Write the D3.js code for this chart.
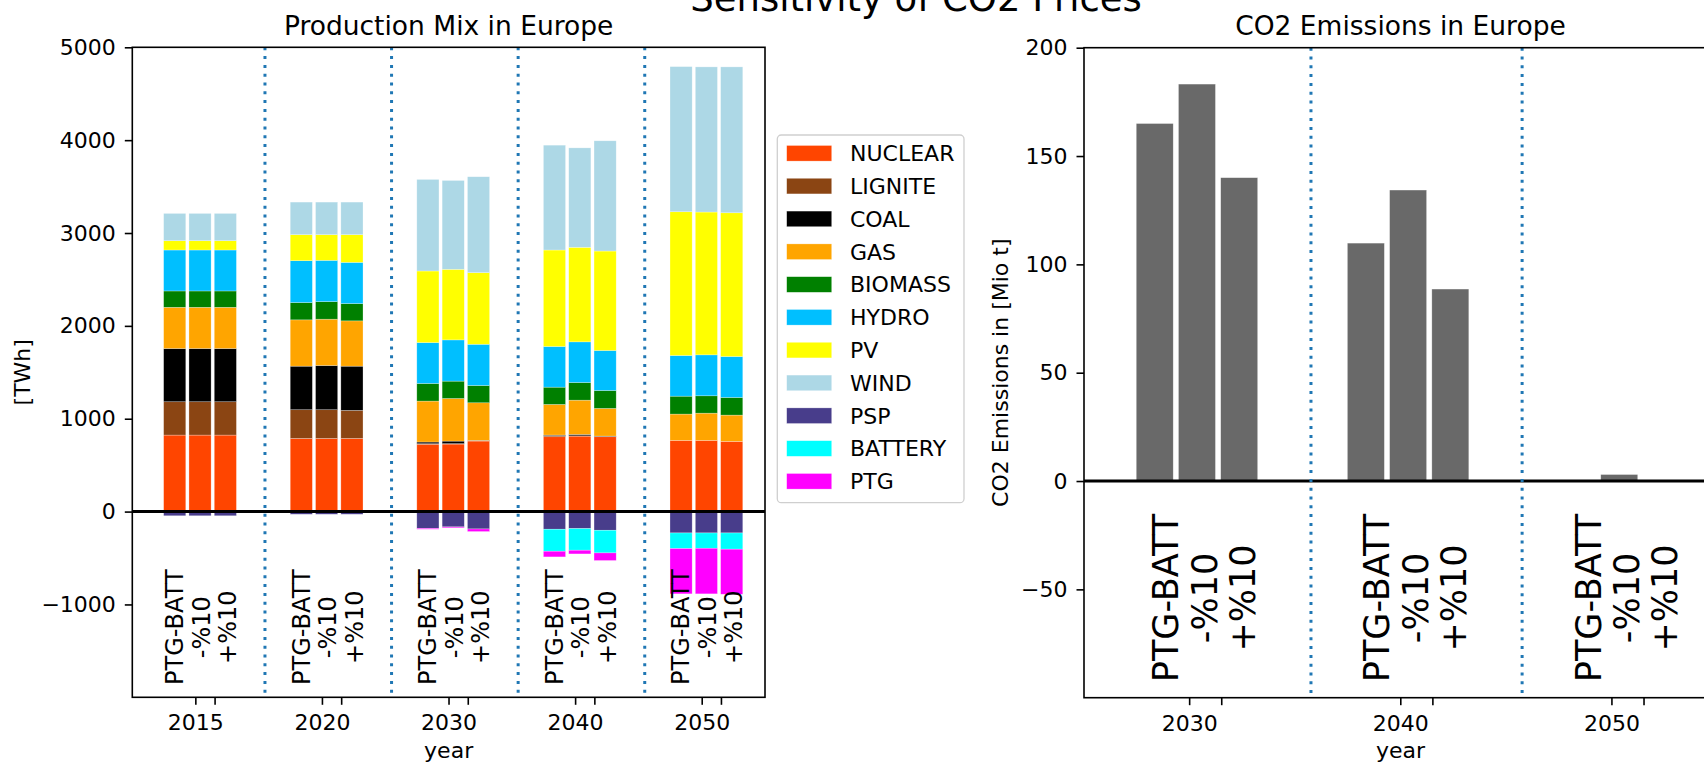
<!DOCTYPE html>
<html>
<head>
<meta charset="utf-8">
<script src="https://cdn.jsdelivr.net/npm/d3@7"></script>
<style>
  body { margin: 0; background: #fff; }
  svg { display: block; font-family: "DejaVu Sans", sans-serif; }
</style>
</head>
<body>
<svg id="fig" width="1704" height="766"></svg>
<script>
// ---- data ---------------------------------------------------------------
const years = ["2015", "2020", "2030", "2040", "2050"];
const scenarios = ["PTG-BATT", "-%10", "+%10"];
const techs = ["NUCLEAR", "LIGNITE", "COAL", "GAS", "BIOMASS", "HYDRO", "PV", "WIND", "PSP", "BATTERY", "PTG"];
const techColors = ["#ff4500", "#8b4513", "#000000", "#ffa500", "#008000", "#00bfff",
                    "#ffff00", "#add8e6", "#483d8b", "#00ffff", "#ff00ff"];

// TWh per year and scenario (year-major, scenario order as above)
const NUCLEAR = [824, 824, 824,  788, 788, 788,  725, 727, 760,  806, 813, 806,  767, 767, 756];
const LIGNITE = [359, 359, 359,  309, 309, 302,    6,   5,   2,   12,   3,   0,    0,   0,   0];
const COAL    = [573, 573, 573,  469, 476, 476,   18,  27,   5,    6,  15,   7,    0,   0,   0];
const GAS     = [444, 444, 444,  499, 499, 488,  441, 459, 405,  330, 369, 298,  283, 293, 283];
const BIOMASS = [176, 176, 176,  186, 189, 186,  190, 187, 186,  186, 190, 193,  193, 187, 190];
const HYDRO   = [441, 441, 441,  451, 445, 444,  440, 444, 444,  438, 438, 431,  438, 441, 441];
const PV      = [100, 100, 100,  280, 276, 298,  771, 760, 771, 1039,1018,1071, 1548,1538,1548];
const WIND    = [294, 294, 294,  351, 351, 351,  986, 957,1033, 1129,1071,1187, 1563,1563,1571];
const PSP     = [-45, -45, -45,  -29, -29, -29, -180,-165,-187, -190,-183,-201, -230,-230,-230];
const BATTERY = [  0,   0,   0,    0,   0,   0,    0,   0,   0, -237,-233,-244, -168,-165,-175];
const PTG     = [  0,   0,   0,    0,   0,   0,  -10, -10, -28,  -61, -40, -82, -488,-491,-485];
const techValues = [NUCLEAR, LIGNITE, COAL, GAS, BIOMASS, HYDRO, PV, WIND, PSP, BATTERY, PTG];

const co2Years = ["2030", "2040", "2050"];
const co2Values = [165, 183.2, 140,  109.8, 134.3, 88.6,  0, 3, 0];   // Mio t

const mixTicks = [-1000, 0, 1000, 2000, 3000, 4000, 5000];
const co2Ticks = [-50, 0, 50, 100, 150, 200];

// ---- helpers -------------------------------------------------------------
const svg = d3.select("#fig");
const TICK_FONT = 22;
const BAR_STEP = 0.2, BAR_WIDTH = 0.175;

function makePanel(p) {
  const n = p.groups.length;
  const x = d3.scaleLinear().domain([-0.535, n - 1 + 0.463]).range([p.left, p.right]);
  const y = d3.scaleLinear().domain(p.yDomain).range([p.bottom, p.top]);
  const g = svg.append("g");

  // clip to the plotting area
  const clipId = "clip-" + p.id;
  svg.append("clipPath").attr("id", clipId).append("rect")
    .attr("x", p.left).attr("y", p.top)
    .attr("width", p.right - p.left).attr("height", p.bottom - p.top);
  const plot = g.append("g").attr("clip-path", `url(#${clipId})`);

  return { x, y, g, plot, n };
}

function barX(x, gi, si) {
  return x(gi + (si - 1) * BAR_STEP - BAR_WIDTH / 2);
}

function finishPanel(P, p) {
  const { x, y, g, plot, n } = P;

  // zero line
  plot.append("line")
    .attr("x1", p.left).attr("x2", p.right)
    .attr("y1", y(0)).attr("y2", y(0))
    .attr("stroke", "#000").attr("stroke-width", 3);

  // dotted separators between years
  d3.range(n - 1).forEach(i => {
    plot.append("line")
      .attr("x1", x(i + p.divOffset)).attr("x2", x(i + p.divOffset))
      .attr("y1", p.top).attr("y2", p.bottom)
      .attr("stroke", "#1f77b4").attr("stroke-width", 3)
      .attr("stroke-dasharray", "3 5.8");
  });

  // scenario names under each group
  d3.range(n).forEach(i => {
    scenarios.forEach((s, k) => {
      const bx = x(i) + p.labelBase[k];
      const by = y(p.labelCenter);
      g.append("text")
        .attr("transform", `translate(${bx},${by}) rotate(-90)`)
        .attr("text-anchor", "middle")
        .attr("font-size", p.labelFont)
        .attr("fill", "#000")
        .text(s);
    });
  });

  // frame
  g.append("rect")
    .attr("x", p.left).attr("y", p.top)
    .attr("width", p.right - p.left).attr("height", p.bottom - p.top)
    .attr("fill", "none").attr("stroke", "#000").attr("stroke-width", 1.6);

  // y axis
  const yAxis = d3.axisLeft(y).tickValues(p.yTicks).tickSize(7.5).tickPadding(9)
    .tickFormat(d3.format("d"));
  const ya = g.append("g").attr("transform", `translate(${p.left},0)`).call(yAxis);
  ya.select(".domain").remove();
  ya.selectAll("line").attr("stroke", "#000").attr("stroke-width", 1.6);
  ya.selectAll("text").attr("font-size", TICK_FONT).attr("font-family", "DejaVu Sans").attr("fill", "#000");

  // x axis: two ticks per year, first one labelled
  const tickVals = [];
  d3.range(n).forEach(i => { tickVals.push(i - 0.037, i + 0.115); });
  const xAxis = d3.axisBottom(x).tickValues(tickVals).tickSize(7.5).tickPadding(10)
    .tickFormat((d, k) => (k % 2 === 0 ? p.groups[k / 2] : ""));
  const xa = g.append("g").attr("transform", `translate(0,${p.bottom})`).call(xAxis);
  xa.select(".domain").remove();
  xa.selectAll("line").attr("stroke", "#000").attr("stroke-width", 1.6);
  xa.selectAll("text").attr("font-size", TICK_FONT).attr("font-family", "DejaVu Sans").attr("fill", "#000");

  // titles
  const cx = (p.left + p.right) / 2;
  g.append("text").attr("x", cx).attr("y", 35).attr("text-anchor", "middle")
    .attr("font-size", 26.5).text(p.title);
  g.append("text").attr("x", cx).attr("y", 758).attr("text-anchor", "middle")
    .attr("font-size", TICK_FONT).text("year");
  g.append("text")
    .attr("transform", `translate(${p.yLabelX},${(p.top + p.bottom) / 2}) rotate(-90)`)
    .attr("text-anchor", "middle").attr("font-size", TICK_FONT).text(p.yLabel);
}

// ---- left panel: production mix -----------------------------------------
const leftSpec = {
  id: "mix", groups: years, left: 132.3, right: 765, top: 47.3, bottom: 697.3,
  yDomain: [-2000, 5000], yTicks: mixTicks, divOffset: 0.513,
  labelBase: [-17, 9.5, 36], labelCenter: -1245, labelFont: 24,
  title: "Production Mix in Europe", yLabel: "[TWh]", yLabelX: 30
};
const L = makePanel(leftSpec);

const rows = d3.range(years.length * scenarios.length).map(r => {
  const o = { g: Math.floor(r / scenarios.length), s: r % scenarios.length };
  techs.forEach((t, k) => { o[t] = techValues[k][r]; });
  return o;
});
const stacked = d3.stack().keys(techs).offset(d3.stackOffsetDiverging)(rows);

L.plot.selectAll("g.series").data(stacked).join("g")
  .attr("class", "series")
  .attr("fill", (d, k) => techColors[k])
  .selectAll("rect").data(d => d).join("rect")
  .attr("x", d => barX(L.x, d.data.g, d.data.s))
  .attr("width", L.x(BAR_WIDTH) - L.x(0))
  .attr("y", d => L.y(Math.max(d[0], d[1])))
  .attr("height", d => Math.abs(L.y(d[0]) - L.y(d[1])))
  .attr("stroke", "#fff").attr("stroke-width", 0.6).attr("stroke-opacity", 0.45);

finishPanel(L, leftSpec);

// ---- right panel: CO2 emissions ------------------------------------------
const rightSpec = {
  id: "co2", groups: co2Years, left: 1084, right: 1717, top: 47.7, bottom: 697.7,
  yDomain: [-100, 200], yTicks: co2Ticks, divOffset: 0.54,
  labelBase: [-18.7, 19.7, 58], labelCenter: -54, labelFont: 35,
  title: "CO2 Emissions in Europe", yLabel: "CO2 Emissions in [Mio t]", yLabelX: 1008
};
const R = makePanel(rightSpec);

R.plot.selectAll("rect.co2").data(co2Values).join("rect")
  .attr("class", "co2")
  .attr("x", (d, r) => barX(R.x, Math.floor(r / 3), r % 3))
  .attr("width", R.x(BAR_WIDTH) - R.x(0))
  .attr("y", d => R.y(Math.max(0, d)))
  .attr("height", d => Math.abs(R.y(d) - R.y(0)))
  .attr("fill", "#696969")
  .attr("stroke", "#fff").attr("stroke-width", 0.6).attr("stroke-opacity", 0.45);

finishPanel(R, rightSpec);

// ---- legend ----------------------------------------------------------------
const legend = svg.append("g");
legend.append("rect")
  .attr("x", 777.3).attr("y", 135).attr("width", 186.7).attr("height", 367.7)
  .attr("rx", 4).attr("fill", "#fff").attr("stroke", "#cfcfcf").attr("stroke-width", 1.3);
const items = legend.selectAll("g.item").data(techs).join("g").attr("class", "item")
  .attr("transform", (d, k) => `translate(0,${153.3 + k * 32.8})`);
items.append("rect")
  .attr("x", 786.7).attr("y", -7.8).attr("width", 45).attr("height", 15.6)
  .attr("fill", (d, k) => techColors[k])
  .attr("stroke", "#fff").attr("stroke-width", 0.6).attr("stroke-opacity", 0.45);
items.append("text")
  .attr("x", 850).attr("y", 0).attr("dy", "0.36em")
  .attr("font-size", TICK_FONT).text(d => d);

// ---- figure title (sits partly above the top edge) -------------------------
svg.append("text").attr("x", 916).attr("y", 11).attr("text-anchor", "middle")
  .attr("font-size", 37).text("Sensitivity of CO2 Prices");
</script>
</body>
</html>
